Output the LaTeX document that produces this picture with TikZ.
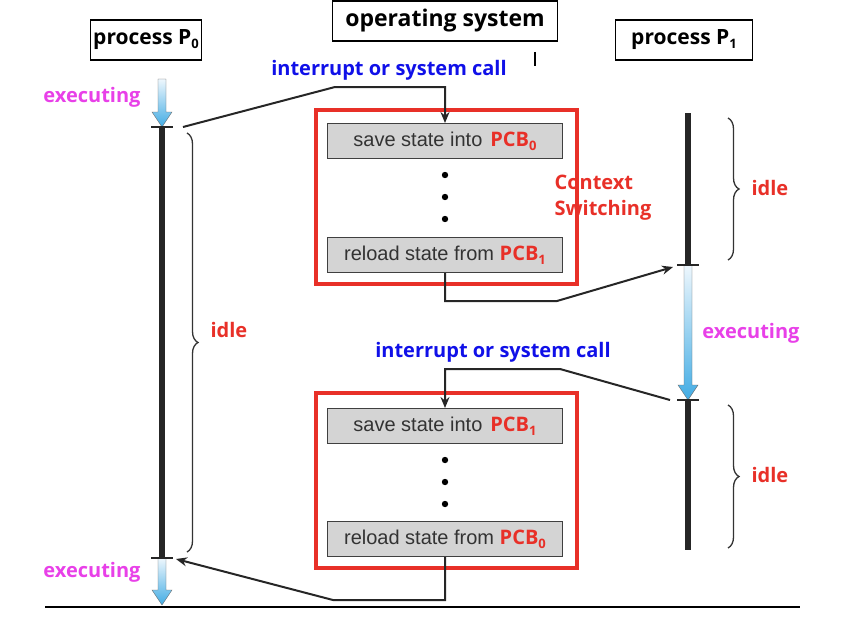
\documentclass[tikz,border=0pt]{standalone}
\usepackage{fontspec}
\setmainfont{Open Sans}
\newfontfamily\arialfont{Liberation Sans}
\usetikzlibrary{positioning}
\usetikzlibrary{arrows.meta}
\usetikzlibrary{decorations.pathreplacing}

\definecolor{execcol}{RGB}{232,64,232}
\definecolor{idlecol}{RGB}{232,48,40}
\definecolor{callcol}{RGB}{16,16,232}
\definecolor{boxgray}{RGB}{212,212,212}
\definecolor{arrowtop}{RGB}{238,247,253}
\definecolor{arrowbot}{RGB}{66,172,228}

\newcommand{\lowsub}[1]{\raisebox{-0.35ex}{\fontsize{13}{13}\selectfont #1}}
\newcommand{\pcb}[1]{{\rmfamily\bfseries\color{idlecol}PCB\lowsub{#1}}}
\newcommand{\execarrow}[3]{%
  \shade [draw = black!60, top color = arrowtop, bottom color = arrowbot]
    (#1-4, #2) -- (#1+4, #2) -- (#1+4, #3-15) -- (#1+10, #3-15) -- (#1, #3)
    -- (#1-10, #3-15) -- (#1-4, #3-15) -- cycle;}

\tikzset{
  titlebox/.style = {draw, line width = 1.3, minimum height = 40, inner xsep = 3, font = \bfseries\fontsize{21}{23}\selectfont},
  statebox/.style = {draw = black!75, line width = 1, fill = boxgray, minimum width = 235, minimum height = 35, inner sep = 0, text = black!80, font = \arialfont\fontsize{20}{20}\selectfont},
  switchbox/.style = {draw = idlecol, line width = 3.2},
  execlbl/.style = {text = execcol, font = \bfseries\fontsize{20}{22}\selectfont},
  idlelbl/.style = {text = idlecol, font = \bfseries\fontsize{20}{26}\selectfont},
  calllbl/.style = {text = callcol, font = \bfseries\fontsize{20}{22}\selectfont},
  timeline/.style = {line width = 5.5, black!85},
  tickmark/.style = {line width = 1.2, black!85},
  idlebrace/.style = {decorate, decoration = {brace, amplitude = 11}, line width = 1.3, black!80},
  link/.style = {line width = 2, black!85, -{Stealth[length = 11, width = 9]}}
}

\begin{document}
\begin{tikzpicture}[x = 1pt, y = -1pt]
  \useasboundingbox (0, 0) rectangle (856, 618);

  \node [titlebox, minimum width = 107] (p0) at (146, 40) {process P\lowsub{0}};
  \node [titlebox, minimum width = 225, font = \bfseries\fontsize{23}{25}\selectfont] (os) at (445, 21) {operating system};
  \node [titlebox, minimum width = 137] (p1) at (684, 40) {process P\lowsub{1}};
  \draw [line width = 1.2] (535, 52) -- (535, 66);

  \draw [switchbox] (316, 110) rectangle (577, 284);
  \draw [switchbox] (316, 393) rectangle (577, 568);
  \node [statebox] (save0) at (445, 141) {save state into\hspace{8pt}\pcb{0}};
  \node [statebox] (reload1) at (445, 255) {reload state from \pcb{1}};
  \node [statebox] (save1) at (445, 426) {save state into\hspace{8pt}\pcb{1}};
  \node [statebox] (reload0) at (445, 539) {reload state from \pcb{0}};
  \foreach \y in {175, 197, 219, 460, 482, 504}
    \fill (445, \y) circle (3.2);
  \node [idlelbl, align = left, anchor = west] (ctx) at (551, 198) {Context\\Switching};

  \execarrow{162}{79}{127}
  \draw [timeline] (162, 127) -- (162, 558);
  \execarrow{162}{558}{605}
  \draw [tickmark] (151, 127) -- (173, 127);
  \draw [tickmark] (151, 558) -- (173, 558);
  \draw [line width = 2] (45, 607) -- (800, 607);

  \draw [timeline] (688, 113) -- (688, 265);
  \execarrow{688}{265}{400}
  \draw [timeline] (688, 400) -- (688, 550);
  \draw [tickmark] (677, 265) -- (699, 265);
  \draw [tickmark] (677, 400) -- (699, 400);

  \node [execlbl] (exec0) at (92, 97) {executing};
  \node [execlbl] (exec1) at (92, 572) {executing};
  \node [execlbl] (exec2) at (751, 333) {executing};

  \draw [idlebrace] (187, 133) -- (187, 552);
  \node [idlelbl, anchor = west] (idle0) at (207, 330) {idle};
  \draw [idlebrace] (728, 118) -- (728, 260);
  \node [idlelbl, anchor = west] (idle1) at (748, 188) {idle};
  \draw [idlebrace] (728, 405) -- (728, 548);
  \node [idlelbl, anchor = west] (idle2) at (748, 475) {idle};

  \node [calllbl] (call0) at (389, 70) {interrupt or system call};
  \node [calllbl] (call1) at (493, 352) {interrupt or system call};

  \coordinate (leave0) at (183, 127);
  \coordinate (enter1) at (673, 267);
  \coordinate (leave1) at (670, 400);
  \coordinate (enter0) at (176, 559);
  \draw [link] (leave0) -- (335, 87) -| (save0.north);
  \draw [link] (reload1.south) |- (557, 301) -- (enter1);
  \draw [link] (leave1) -- (560, 369) -| (save1.north);
  \draw [link] (reload0.south) |- (333, 600) -- (enter0);
\end{tikzpicture}
\end{document}
